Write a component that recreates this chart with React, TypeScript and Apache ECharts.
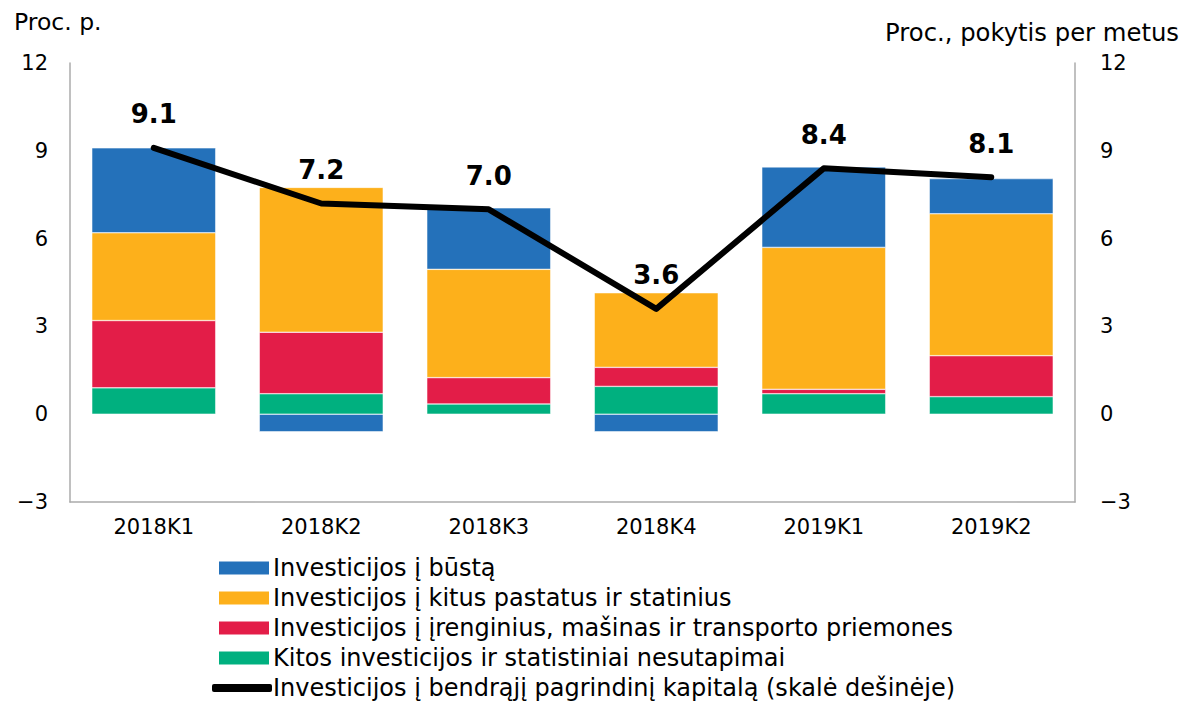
import React, { useEffect, useRef } from "react";
import * as echarts from "echarts";

const categories = ["2018K1", "2018K2", "2018K3", "2018K4", "2019K1", "2019K2"];
const housing = [2.9, -0.6, 2.1, -0.6, 2.75, 1.2];
const otherBuildings = [3.0, 4.95, 3.7, 2.55, 4.85, 4.85];
const machinery = [2.3, 2.1, 0.9, 0.65, 0.15, 1.4];
const otherInv = [0.9, 0.7, 0.35, 0.95, 0.7, 0.6];
const totalGrowth = [9.1, 7.2, 7.0, 3.6, 8.4, 8.1];
const yTicks = [-3, 0, 3, 6, 9, 12];

const names = [
  "Investicijos į būstą",
  "Investicijos į kitus pastatus ir statinius",
  "Investicijos į įrenginius, mašinas ir transporto priemones",
  "Kitos investicijos ir statistiniai nesutapimai",
  "Investicijos į bendrąjį pagrindinį kapitalą (skalė dešinėje)",
];
const colors = ["#2471BA", "#FDB01B", "#E31D48", "#00B07F", "#000000"];

const FONT = "DejaVu Sans";

export default function App() {
  const ref = useRef<HTMLDivElement>(null);
  useEffect(() => {
    const chart = echarts.init(ref.current!, null, { renderer: "svg" });
    const fmt = (v: number) => (v < 0 ? "\u2212" + Math.abs(v) : String(v));
    const yAxisCommon = {
      type: "value",
      min: yTicks[0],
      max: yTicks[yTicks.length - 1],
      interval: 3,
      splitLine: { show: false },
      axisTick: { show: false },
      axisLine: { show: true, lineStyle: { color: "#ABABAB", width: 1.5 } },
      axisLabel: { color: "#000", fontSize: 21, fontFamily: FONT, formatter: fmt },
    };
    const stackData = [otherInv, machinery, otherBuildings, housing];
    const stackIdx = [3, 2, 1, 0];
    const barSeries = stackData.map((d, k) => ({
      name: names[stackIdx[k]],
      type: "bar",
      stack: "s",
      data: d,
      barWidth: "74%",
      itemStyle: { color: colors[stackIdx[k]], borderColor: "#fff", borderWidth: 0.5 },
    }));
    const legends = names.map((n, i) => ({
      data: [n],
      left: i === 4 ? 212 : 217,
      top: 556 + i * 30,
      itemWidth: i === 4 ? 60 : 52,
      itemHeight: i === 4 ? 8 : 15,
      icon: i === 4 ? "roundRect" : "rect",
      itemGap: 0,
      selectedMode: false,
      textStyle: {
        fontSize: 24,
        lineHeight: 22,
        fontFamily: FONT,
        color: "#000",
        padding: [0, 0, 0, i === 4 ? -4 : -2],
      },
      padding: 0,
    }));
    chart.setOption({
      animation: false,
      textStyle: { fontFamily: FONT },
      title: [
        { text: "Proc. p.", left: 9, top: 5, textStyle: { fontSize: 23.5, fontWeight: "normal", fontFamily: FONT, color: "#000" } },
        { text: "Proc., pokytis per metus", right: 0, top: 15, textStyle: { fontSize: 24.3, fontWeight: "normal", fontFamily: FONT, color: "#000" } },
      ],
      legend: legends,
      grid: { left: 70, right: 109, top: 63, bottom: 201 },
      xAxis: {
        type: "category",
        data: categories,
        axisTick: { show: false },
        axisLine: { show: true, onZero: false, lineStyle: { color: "#ABABAB", width: 1.5 } },
        axisLabel: { color: "#000", fontSize: 21, fontFamily: FONT, margin: 14 },
      },
      yAxis: [
        { ...yAxisCommon, position: "left", axisLabel: { ...yAxisCommon.axisLabel, margin: 22 } },
        { ...yAxisCommon, position: "right", axisLabel: { ...yAxisCommon.axisLabel, margin: 25 } },
      ],
      series: [
        ...barSeries,
        {
          name: names[4],
          type: "line",
          yAxisIndex: 1,
          data: totalGrowth,
          symbol: "circle",
          symbolSize: 1,
          lineStyle: { color: "#000", width: 6, cap: "round", join: "round" },
          itemStyle: { color: "#000" },
          label: {
            show: true,
            position: "top",
            distance: 20,
            fontSize: 26,
            fontWeight: "bold",
            fontFamily: FONT,
            color: "#000",
            formatter: (p: any) => p.value.toFixed(1),
          },
          z: 5,
        },
      ],
    });
    return () => chart.dispose();
  }, []);
  return <div ref={ref} style={{ width: 1184, height: 703, position: "absolute", left: 0, top: 0 }} />;
}
